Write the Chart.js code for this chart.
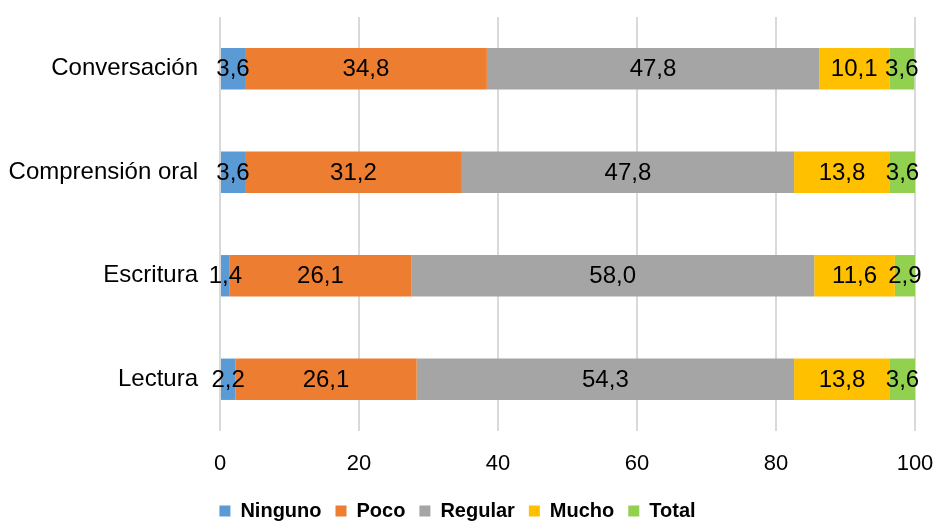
<!DOCTYPE html>
<html>
<head>
<meta charset="utf-8">
<script src="https://cdn.jsdelivr.net/npm/chart.js@4/dist/chart.umd.min.js"></script>
<style>
  html, body { margin: 0; padding: 0; background: #fff; }
  #wrap { width: 936px; height: 523px; }
</style>
</head>
<body>
<div id="wrap"><canvas id="myChart" width="936" height="523"></canvas></div>
<script>
// 데이터
const categories = ["Conversación", "Comprensión oral", "Escritura", "Lectura"];
const ninguno = [3.6, 3.6, 1.4, 2.2];
const poco = [34.8, 31.2, 26.1, 26.1];
const regular = [47.8, 47.8, 58.0, 54.3];
const mucho = [10.1, 13.8, 11.6, 13.8];
const total = [3.6, 3.6, 2.9, 3.6];
const xTicks = [0, 20, 40, 60, 80, 100];

const FONT = "'Liberation Sans', Arial, sans-serif";

// 막대 안에 값 표시
const valueLabels = {
  id: "valueLabels",
  afterDatasetsDraw(chart) {
    const ctx = chart.ctx;
    ctx.save();
    ctx.font = "24px " + FONT;
    ctx.fillStyle = "#000";
    ctx.textAlign = "center";
    ctx.textBaseline = "middle";
    chart.data.datasets.forEach((ds, i) => {
      chart.getDatasetMeta(i).data.forEach((bar, j) => {
        const x = (bar.x + bar.base) / 2;
        ctx.fillText(ds.data[j].toFixed(1).replace(".", ","), x, bar.y + 1);
      });
    });
    ctx.restore();
  },
};

const mk = (label, data, color) => ({
  label: label,
  data: data,
  backgroundColor: color,
  borderWidth: 0,
  barPercentage: 0.4,
  categoryPercentage: 1.0,
});

const ctx = document.getElementById("myChart").getContext("2d");
const myChart = new Chart(ctx, {
  type: "bar",
  data: {
    labels: categories,
    datasets: [
      mk("Ninguno", ninguno, "#5B9BD5"),
      mk("Poco", poco, "#ED7D31"),
      mk("Regular", regular, "#A5A5A5"),
      mk("Mucho", mucho, "#FFC000"),
      mk("Total", total, "#92D050"),
    ],
  },
  options: {
    indexAxis: "y",
    responsive: false,
    animation: false,
    layout: { padding: { top: 17, right: 21, left: 0, bottom: -8 } },
    plugins: {
      legend: {
        position: "bottom",
        labels: {
          font: { family: FONT, size: 20, weight: "bold" },
          color: "#000",
          boxWidth: 11,
          boxHeight: 11,
          padding: 14,
        },
      },
      tooltip: { enabled: false },
    },
    scales: {
      x: {
        stacked: true,
        min: 0,
        max: 100,
        afterBuildTicks: (scale) => {
          scale.ticks = xTicks.map((v) => ({ value: v }));
        },
        ticks: {
          font: { family: FONT, size: 22 },
          color: "#000",
          padding: 0,
        },
        grid: { color: "#d9d9d9", lineWidth: 2, tickLength: 20, tickColor: "rgba(0,0,0,0)" },
        border: { display: false },
        afterFit: (scale) => {
          scale.height = 56;
        },
      },
      y: {
        stacked: true,
        ticks: {
          font: { family: FONT, size: 24 },
          color: "#000",
          padding: 0,
        },
        grid: { display: false, tickLength: 22 },
        border: { display: false },
        afterFit: (scale) => {
          scale.width = 220;
        },
      },
    },
  },
  plugins: [valueLabels],
});
</script>
</body>
</html>
